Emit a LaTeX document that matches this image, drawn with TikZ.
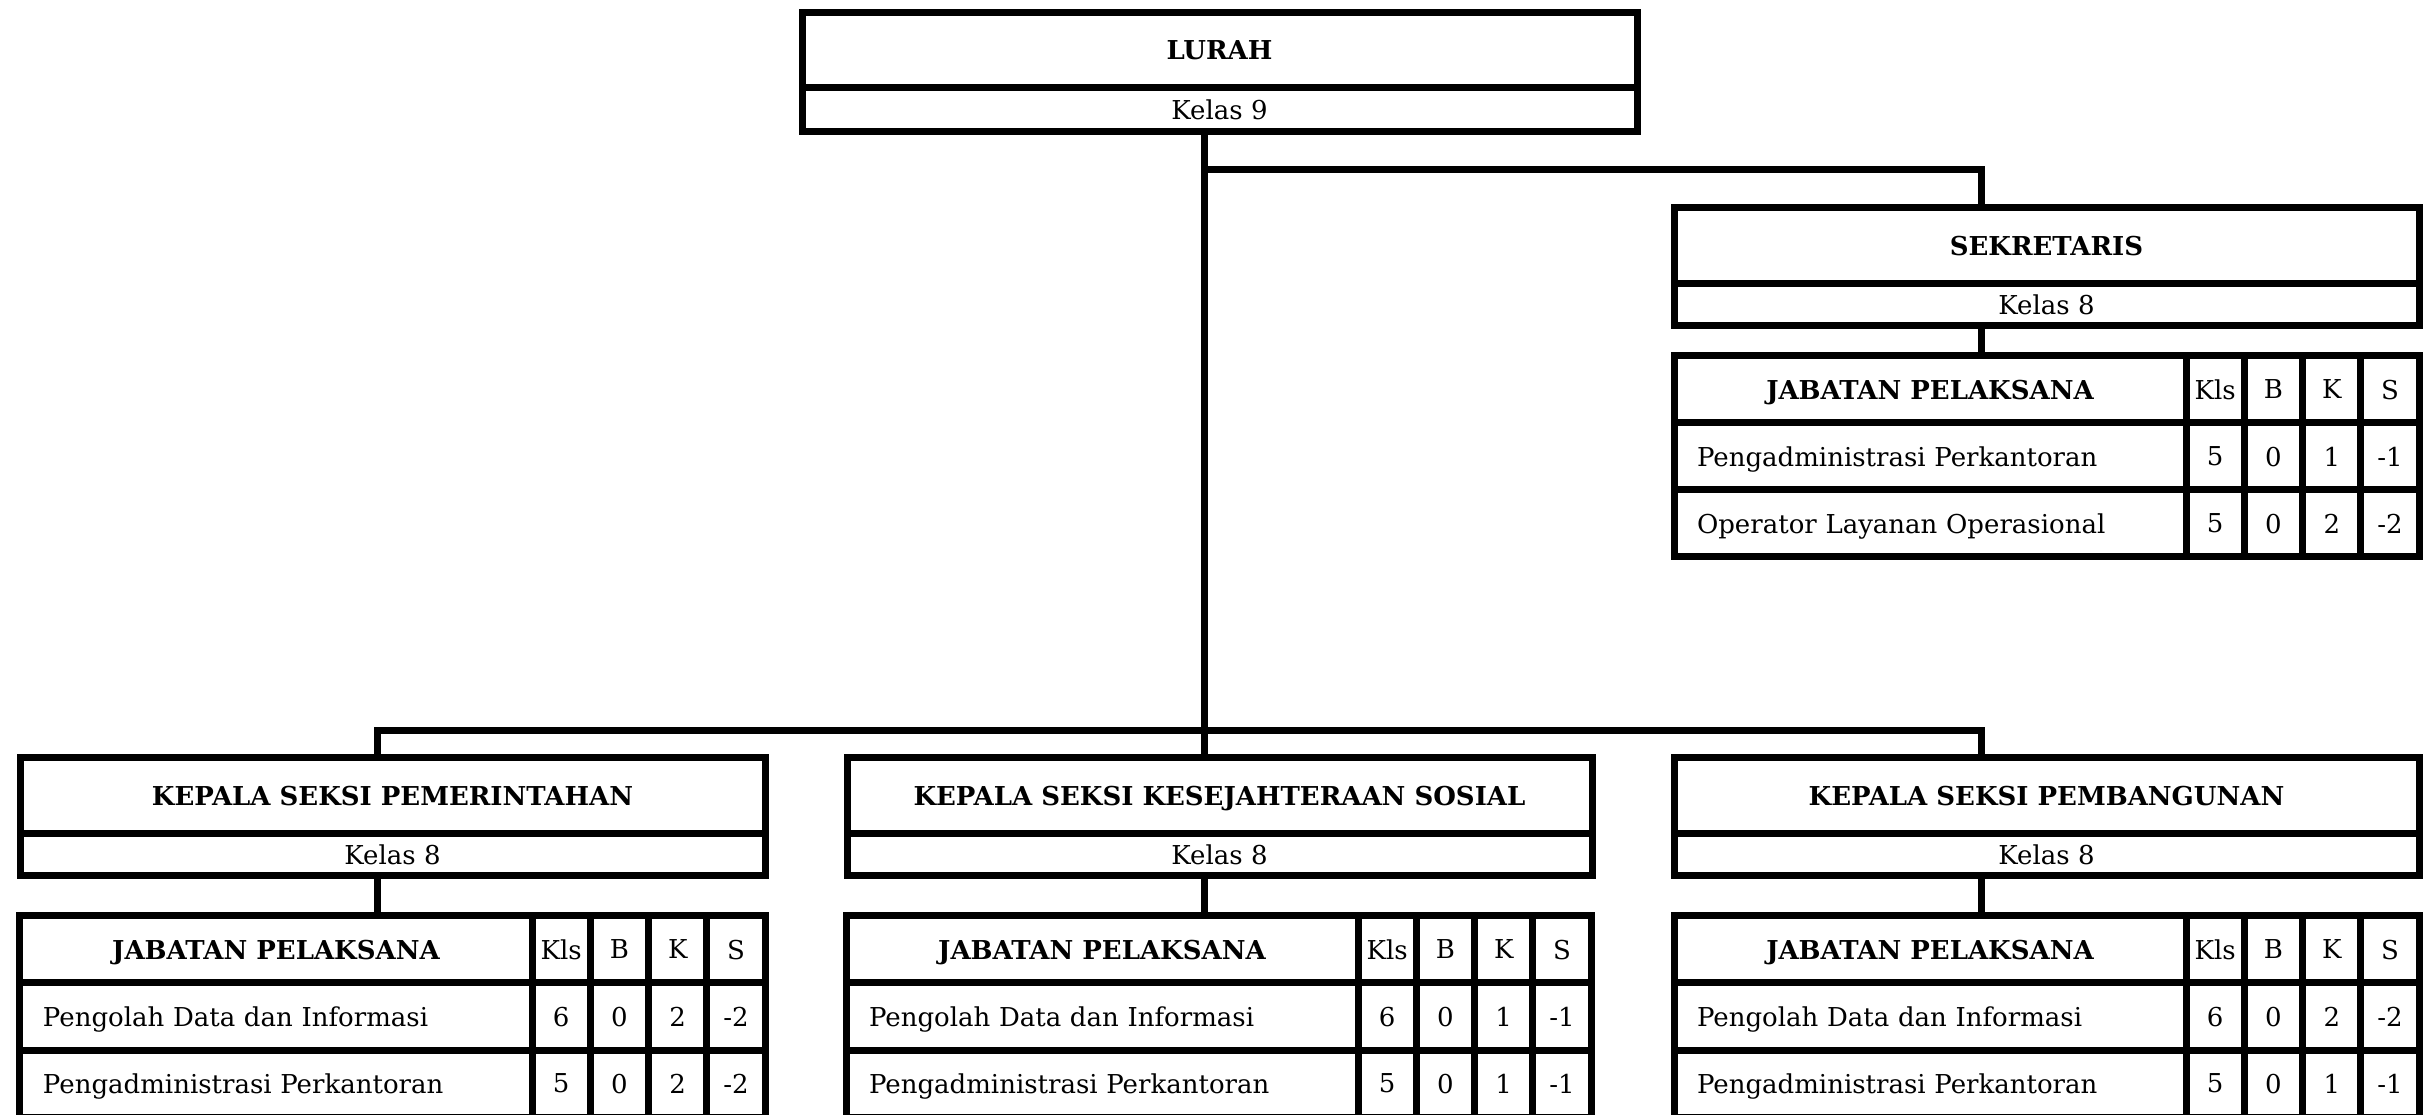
\documentclass[tikz,border=0pt]{standalone}
\usepackage{fontspec}
\setmainfont{DejaVu Serif}
\usetikzlibrary{positioning}

% one row of a pelaksana table: style, name, placement, jabatan, kls, b, k, s
\newcommand{\baris}[8]{%
  \node[namecell, #1, #3] (#2) {#4};
  \node[numcell, right=0pt of #2] (#2-kls) {#5};
  \node[numcell, right=0pt of #2-kls] (#2-b) {#6};
  \node[numcell, right=0pt of #2-b] (#2-k) {#7};
  \node[numcell, right=0pt of #2-k] (#2-s) {#8};}

\begin{document}
\begin{tikzpicture}[font=\fontsize{7.4}{9}\selectfont,
          garis/.style={line width=0.7mm},
          jab/.style={draw, line width=0.7mm, minimum width=74.5mm, minimum height=7.6mm, inner sep=0pt, outer sep=0pt, text depth=0pt, font=\fontsize{7.4}{9}\selectfont\bfseries},
          kls/.style={draw, line width=0.7mm, minimum width=74.5mm, minimum height=4.2mm, inner sep=0pt, outer sep=0pt, text depth=0pt},
          cell/.style={draw, line width=0.7mm, minimum height=6.7mm, inner sep=0pt, outer sep=0pt, text depth=0pt},
          namecell/.style={cell, minimum width=51.2mm},
          numcell/.style={cell, minimum width=5.83mm},
          kepala/.style={font=\fontsize{7.4}{9}\selectfont\bfseries},
          kiri/.style={text width=46.6mm, inner xsep=2.3mm, align=left}]
        \useasboundingbox (0,0) rectangle (24.27,-11.15);
        % pimpinan
        \node[jab, minimum width=83.5mm, minimum height=7.5mm, anchor=north] (lurah) at (12.195,-0.13) {LURAH};
        \node[kls, minimum width=83.5mm, minimum height=4.4mm, below=0pt of lurah] (lurahk) {Kelas 9};
        \node[jab, anchor=north] (sek) at (20.465,-2.08) {SEKRETARIS};
        \node[kls, below=0pt of sek] (sekk) {Kelas 8};
        \baris{kepala}{sek0}{anchor=north west, at={(16.74,-3.56)}}{JABATAN PELAKSANA}{Kls}{B}{K}{S}
        \baris{kiri}{sek1}{below=0pt of sek0}{Pengadministrasi Perkantoran}{5}{0}{1}{-1}
        \baris{kiri}{sek2}{below=0pt of sek1}{Operator Layanan Operasional}{5}{0}{2}{-2}
        % seksi
        \node[jab, anchor=north] (pem) at (3.925,-7.58) {KEPALA SEKSI PEMERINTAHAN};
        \node[kls, below=0pt of pem] (pemk) {Kelas 8};
        \node[jab, anchor=north] (kss) at (12.195,-7.58) {KEPALA SEKSI KESEJAHTERAAN SOSIAL};
        \node[kls, below=0pt of kss] (kssk) {Kelas 8};
        \node[jab, anchor=north] (pbg) at (20.465,-7.58) {KEPALA SEKSI PEMBANGUNAN};
        \node[kls, below=0pt of pbg] (pbgk) {Kelas 8};
        \baris{kepala}{pem0}{anchor=north west, at={(0.20,-9.16)}}{JABATAN PELAKSANA}{Kls}{B}{K}{S}
        \baris{kiri}{pem1}{below=0pt of pem0}{Pengolah Data dan Informasi}{6}{0}{2}{-2}
        \baris{kiri}{pem2}{below=0pt of pem1}{Pengadministrasi Perkantoran}{5}{0}{2}{-2}
        \baris{kepala}{kss0}{anchor=north west, at={(8.46,-9.16)}}{JABATAN PELAKSANA}{Kls}{B}{K}{S}
        \baris{kiri}{kss1}{below=0pt of kss0}{Pengolah Data dan Informasi}{6}{0}{1}{-1}
        \baris{kiri}{kss2}{below=0pt of kss1}{Pengadministrasi Perkantoran}{5}{0}{1}{-1}
        \baris{kepala}{pbg0}{anchor=north west, at={(16.74,-9.16)}}{JABATAN PELAKSANA}{Kls}{B}{K}{S}
        \baris{kiri}{pbg1}{below=0pt of pbg0}{Pengolah Data dan Informasi}{6}{0}{2}{-2}
        \baris{kiri}{pbg2}{below=0pt of pbg1}{Pengadministrasi Perkantoran}{5}{0}{1}{-1}
        % garis komando
        \coordinate (sek-c) at ([xshift=-6.55mm]sek.north);
        \coordinate (pem-c) at ([xshift=-1.55mm]pem.north);
        \coordinate (kss-c) at ([xshift=-1.55mm]kss.north);
        \coordinate (pbg-c) at ([xshift=-6.55mm]pbg.north);
        \coordinate (cab1) at (12.04,-1.70);
        \coordinate (cab2) at (12.04,-7.31);
        \draw[garis] (lurahk.south -| kss-c) -- (kss-c);
        \draw[garis] (cab1) -| (sek-c);
        \draw[garis] (pem-c) |- (cab2) -| (pbg-c);
        \draw[garis] (sek-c |- sekk.south) -- (sek-c |- sek0.north);
        \draw[garis] (pem-c |- pemk.south) -- (pem-c |- pem0.north);
        \draw[garis] (kss-c |- kssk.south) -- (kss-c |- kss0.north);
        \draw[garis] (pbg-c |- pbgk.south) -- (pbg-c |- pbg0.north);
      \end{tikzpicture}
\end{document}
